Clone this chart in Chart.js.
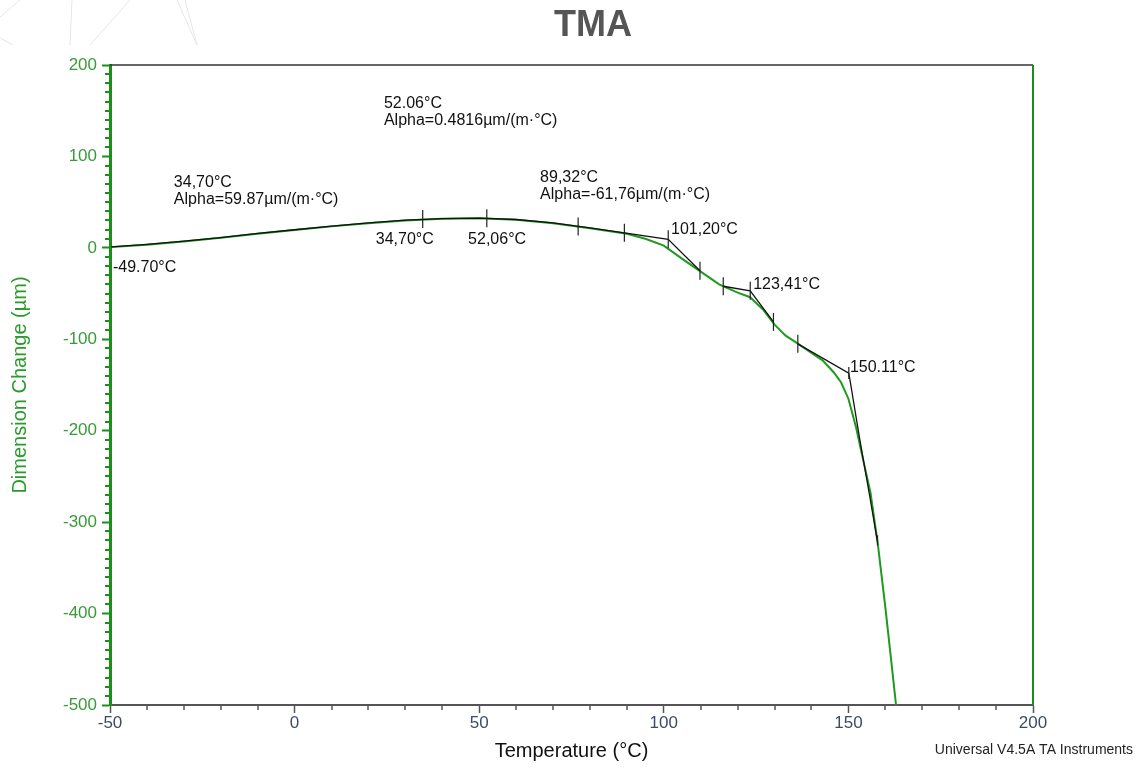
<!DOCTYPE html>
<html>
<head>
<meta charset="utf-8">
<script src="https://cdn.jsdelivr.net/npm/chart.js@4.4.1/dist/chart.umd.min.js"></script>
<style>
body { margin: 0; background: #fff; }
#wrap { width: 1139px; height: 768px; position: relative; }
</style>
</head>
<body>
<div id="wrap"><canvas id="tma"></canvas></div>
<script>
// measured curve (temperature °C / dimension change µm)
const curveTemp = [-50, -49.7, -40, -30, -20, -10, 0, 10, 20, 30, 40, 50, 60, 70, 80, 90, 95, 100, 105, 110, 115, 120, 123.4, 127, 130, 133, 136, 140, 143, 146, 148, 150, 152, 154, 156, 158, 160, 161.5, 162.9];
const curveDim = [0.5, 0.8, 3.5, 7, 11, 15.5, 19.5, 23.5, 27, 30, 31.8, 32.3, 30.8, 27, 21.5, 15.5, 10, 2.5, -12, -26, -40, -49, -54, -68, -84, -96, -104, -115, -123, -136, -147, -165, -195, -232, -268, -325, -393, -448, -500];

// analysis tangent segments (null = break)
const fitTemp = [-49.7, -40, -30, -20, -10, 0, 10, 20, 30, 40, 50, 60, 70, 80, 89.32, 101.2, 109.8, null, 116.1, 123.41, 129.7, null, 136.3, 150.11, 150.9, 153.1, 155.8, 157.9];
const fitDim = [1, 3.8, 7.3, 11.3, 15.8, 19.8, 23.8, 27.3, 30.3, 32, 32.5, 31, 27.3, 21.8, 16.5, 9.4, -25, null, -42, -47, -81, null, -105, -137, -156, -210, -272, -322];

// analysis markers
const markTemp = [34.7, 52.06, 76.8, 89.32, 101.2, 109.8, 116.1, 123.41, 129.7, 136.3, 150.11, 157.9];
const markDim = [31.5, 32.4, 23.3, 16.5, 9.4, -25, -42, -47, -81, -105, -137, -320];

// annotation texts and where they sit
const noteText = ["-49.70°C", "34,70°C\nAlpha=59.87µm/(m·°C)", "52.06°C\nAlpha=0.4816µm/(m·°C)", "89,32°C\nAlpha=-61,76µm/(m·°C)", "34,70°C", "52,06°C", "101,20°C", "123,41°C", "150.11°C"];
const noteTemp = [-49.2, -32.7, 24.2, 66.5, 22.0, 47.0, 101.95, 124.2, 150.4];
const noteDim = [-22, 71, 157.3, 76.4, 8.6, 8.6, 19.5, -40.6, -131.4];

const tempMin = -50, tempMax = 200, dimMin = -500, dimMax = 200;

const pts = (xs, ys) => xs.map((v, i) => ({ x: v, y: ys[i] }));

const FONT = '"Liberation Sans", Arial, sans-serif';
const GREEN = '#1a8f1a';

const extras = {
  id: 'extras',
  beforeDraw(chart) {
    const c = chart.ctx;
    c.save();
    c.strokeStyle = '#e6e6e6';
    c.lineWidth = 1;
    [[0, 17, 20, 0], [0, 38, 13, 45], [72, 0, 70, 45], [90, 45, 130, 0], [177, 0, 197, 45], [185, 0, 197, 45]].forEach(l => {
      c.beginPath(); c.moveTo(l[0], l[1]); c.lineTo(l[2], l[3]); c.stroke();
    });
    c.restore();
  },
  afterDraw(chart) {
    const { ctx: c, chartArea: a, scales: { x, y } } = chart;
    c.save();
    // top and right frame
    c.strokeStyle = '#333';
    c.lineWidth = 1.5;
    c.beginPath(); c.moveTo(a.left, a.top); c.lineTo(a.right, a.top); c.stroke();
    c.strokeStyle = GREEN;
    c.lineWidth = 2;
    c.beginPath(); c.moveTo(a.right, a.top); c.lineTo(a.right, a.bottom); c.stroke();

    // minor ticks
    c.lineWidth = 2;
    for (let v = dimMin; v <= dimMax; v += 10) {
      if (v % 100 === 0) continue;
      const py = Math.round(y.getPixelForValue(v));
      c.beginPath(); c.moveTo(a.left - 5, py); c.lineTo(a.left, py); c.stroke();
    }
    c.strokeStyle = '#555';
    c.lineWidth = 1.5;
    for (let v = tempMin; v <= tempMax; v += 10) {
      if (v % 50 === 0) continue;
      const px = Math.round(x.getPixelForValue(v));
      c.beginPath(); c.moveTo(px, a.bottom); c.lineTo(px, a.bottom + 5); c.stroke();
    }

    // annotations
    c.fillStyle = '#111';
    c.font = '16px ' + FONT;
    c.textAlign = 'left';
    c.textBaseline = 'middle';
    noteText.forEach((t, i) => {
      const px = x.getPixelForValue(noteTemp[i]);
      const py = y.getPixelForValue(noteDim[i]);
      t.split('\n').forEach((line, j) => c.fillText(line, px, py + j * 17));
    });

    // title + footer
    c.fillStyle = '#555';
    c.font = 'bold 36px ' + FONT;
    c.textAlign = 'center';
    c.fillText('TMA', 593, 26);
    c.fillStyle = '#222';
    c.font = '14px ' + FONT;
    c.textAlign = 'right';
    c.fillText('Universal V4.5A TA Instruments', 1133, 750);
    c.restore();
  }
};

new Chart(document.getElementById('tma'), {
  type: 'scatter',
  data: {
    datasets: [
      {
        data: pts(curveTemp, curveDim),
        showLine: true,
        borderColor: '#1f9a1f',
        borderWidth: 2,
        pointRadius: 0,
        order: 3
      },
      {
        data: pts(fitTemp, fitDim),
        showLine: true,
        spanGaps: false,
        borderColor: '#111',
        borderWidth: 1.3,
        pointRadius: 0,
        order: 2
      },
      {
        data: pts(markTemp, markDim),
        showLine: false,
        pointStyle: 'line',
        rotation: 90,
        pointRadius: [9, 9, 9, 9, 9, 9, 9, 9, 9, 9, 6, 5],
        borderColor: '#222',
        borderWidth: 1.2,
        order: 1
      }
    ]
  },
  options: {
    responsive: true,
    maintainAspectRatio: false,
    animation: false,
    layout: { padding: { top: 65, right: 106, left: 0, bottom: 0 } },
    plugins: {
      legend: { display: false },
      tooltip: { enabled: false }
    },
    scales: {
      x: {
        type: 'linear',
        min: tempMin,
        max: tempMax,
        ticks: { stepSize: 50, color: '#3d4b66', font: { family: FONT, size: 17 }, padding: 0 },
        grid: { drawOnChartArea: false, tickLength: 8, tickColor: '#555', tickWidth: 1.5 },
        border: { color: '#555', width: 2 },
        title: { display: true, text: 'Temperature (°C)', color: '#111', font: { family: FONT, size: 20 }, padding: { top: 0, bottom: 5 } },
        afterFit: s => { s.height = 63; }
      },
      y: {
        min: dimMin,
        max: dimMax,
        ticks: { stepSize: 100, color: '#3a9a3a', font: { family: FONT, size: 17 }, padding: 5 },
        grid: { drawOnChartArea: false, tickLength: 8, tickColor: GREEN, tickWidth: 2 },
        border: { color: GREEN, width: 3 },
        title: { display: true, text: 'Dimension Change (µm)', color: '#2a9a2a', font: { family: FONT, size: 20 }, padding: { top: 8, bottom: 0 } },
        afterFit: s => { s.width = 110; }
      }
    }
  },
  plugins: [extras]
});
</script>
</body>
</html>
